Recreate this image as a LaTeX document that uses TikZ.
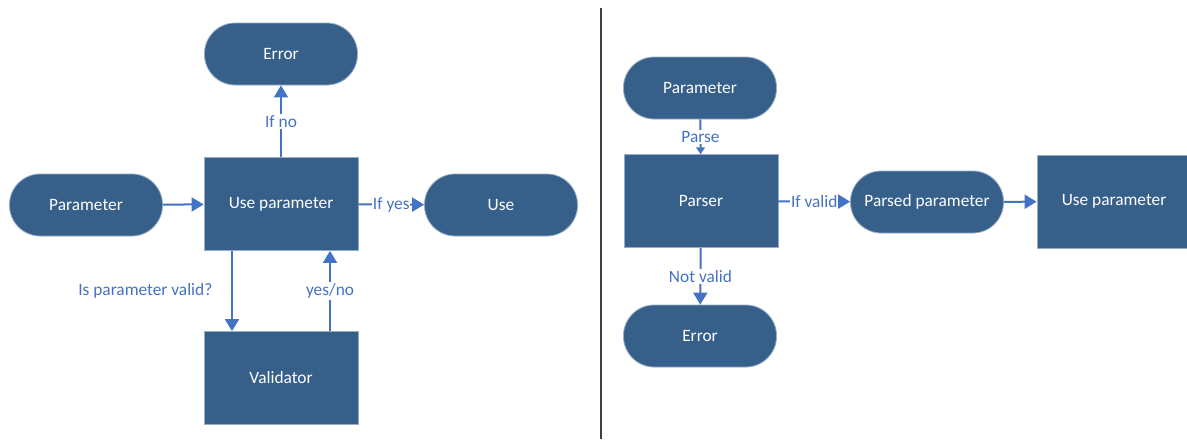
\documentclass[tikz,border=0pt]{standalone}
\usepackage{fontspec}
\setmainfont{Carlito}
\usetikzlibrary{arrows.meta}
\definecolor{boxfill}{RGB}{54,96,137}
\definecolor{boxedge}{RGB}{150,172,200}
\definecolor{arrowc}{RGB}{68,114,196}
\definecolor{divc}{RGB}{64,64,64}
\begin{document}
\begin{tikzpicture}[x=0.75pt,y=-0.75pt,
  every node/.style={font=\fontsize{13}{15}\selectfont},
  procbox/.style={draw=boxedge,line width=0.6pt,fill=boxfill,text=white,minimum width=115.5pt,minimum height=69.75pt,inner sep=0pt},
  pill/.style={draw=boxedge,line width=0.6pt,fill=boxfill,text=white,minimum width=114.75pt,minimum height=46.5pt,rounded corners=23pt,inner sep=0pt},
  conn/.style={draw=arrowc,line width=1.5pt,-{Triangle[length=9pt,width=10.5pt]}},
  smallconn/.style={draw=arrowc,line width=1.5pt,-{Triangle[length=5pt,width=6.5pt]}},
  lbl/.style={text=arrowc,fill=white,inner sep=1pt}
]
\clip (0,0) rectangle (1187,439);
\fill[white] (0,0) rectangle (1187,439);
% left diagram
\node[pill] (errL) at (281,54) {Error};
\node[pill] (parL) at (86,205) {Parameter};
\node[procbox] (useP) at (281,204) {Use parameter};
\node[pill] (useL) at (501,205) {Use};
\node[procbox] (valid) at (281,378) {Validator};
\draw[conn] (parL) -- (useP);
\draw[conn] (useP) -- node[lbl] {If no} (errL);
\draw[conn] (useP) -- node[lbl,inner sep=0.5pt] {If yes} (useL);
\draw[conn] (useP.south -| 232,0) -- node[text=arrowc,anchor=east,inner sep=0pt,xshift=-14pt] {Is parameter valid?} (valid.north -| 232,0);
\draw[conn] (valid.north -| 330,0) -- node[lbl] {yes/no} (useP.south -| 330,0);
% divider
\coordinate (dtop) at (601,8);
\coordinate (dbot) at (601,439);
\draw[divc,line width=1.6pt] (dtop) -- (dbot);
% right diagram
\node[pill] (parR) at (700,88) {Parameter};
\node[procbox] (parser) at (701,201) {Parser};
\node[pill] (parsed) at (927,202) {Parsed parameter};
\node[procbox] (useR) at (1114,201.5) {Use parameter};
\node[pill] (errR) at (700,336) {Error};
\draw[smallconn] (parR) -- node[lbl] {Parse} (parser);
\draw[conn] (parser) -- node[lbl,inner sep=0.5pt] {If valid} (parsed);
\draw[conn] (parsed) -- (useR);
\draw[conn] (parser) -- node[lbl] {Not valid} (errR);
\end{tikzpicture}
\end{document}
